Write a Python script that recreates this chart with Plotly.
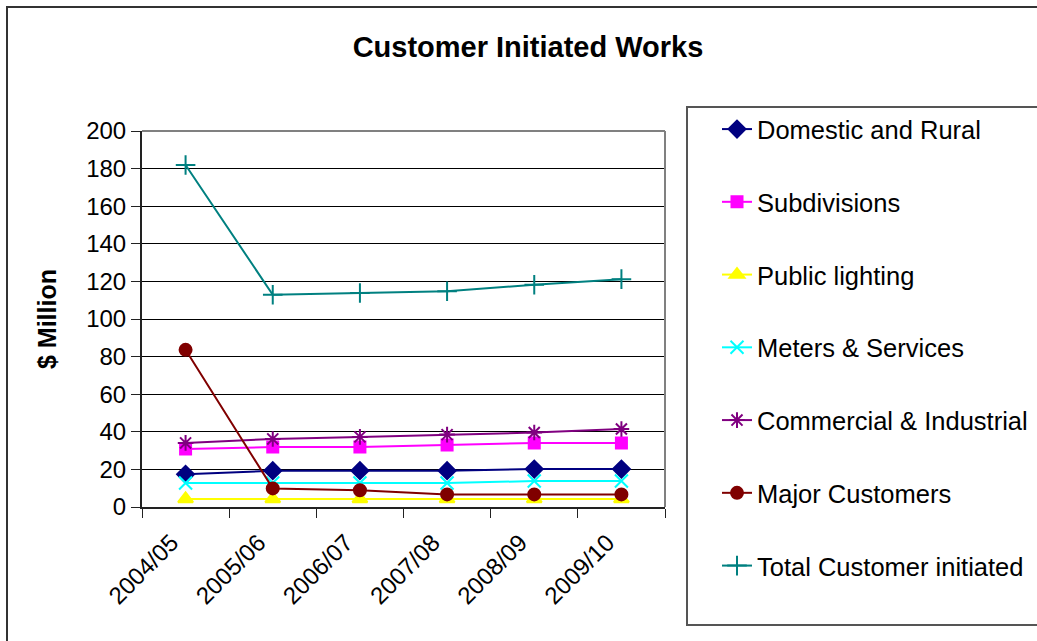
import plotly.graph_objects as go

# Financial years (categories on the x axis)
years = ["2004/05", "2005/06", "2006/07", "2007/08", "2008/09", "2009/10"]

# Expenditure by category, $ Million
domestic_rural = [17.4, 19.3, 19.3, 19.3, 20.2, 20.2]
subdivisions = [30.9, 31.9, 31.9, 33.0, 34.1, 34.1]
public_lighting = [4.3, 4.3, 4.3, 4.3, 4.3, 4.3]
meters_services = [12.8, 12.8, 12.8, 12.8, 13.8, 13.8]
commercial_industrial = [34.1, 36.2, 37.3, 38.5, 39.6, 41.5]
major_customers = [83.6, 9.9, 8.9, 6.7, 6.7, 6.7]
total_customer_initiated = [181.9, 112.9, 113.8, 114.8, 118.2, 121.2]

y_ticks = [0, 20, 40, 60, 80, 100, 120, 140, 160, 180, 200]

series = [
    ("Domestic and Rural", domestic_rural, "#000080", "diamond", 13),
    ("Subdivisions", subdivisions, "#FF00FF", "square", 11),
    ("Public lighting", public_lighting, "#FFFF00", "triangle-up", 13),
    ("Meters & Services", meters_services, "#00FFFF", "x-thin-open", 13),
    ("Commercial & Industrial", commercial_industrial, "#800080", "asterisk-open", 13),
    ("Major Customers", major_customers, "#800000", "circle", 12),
    ("Total Customer initiated", total_customer_initiated, "#008080", "cross-thin-open", 14),
]

W, H = 1037, 641
L, R, T, B = 142, 665, 131, 507  # plot area in pixels


def px_x(p):
    return (p - L) / (R - L)


def px_y(p):
    return (B - p) / (B - T)


fig = go.Figure()
for i, (name, vals, color, symbol, size) in enumerate(series):
    fig.add_trace(go.Scatter(
        x=years, y=vals, name=name, mode="lines+markers",
        legendgroup=f"g{i}",
        line=dict(color=color, width=2),
        marker=dict(symbol=symbol, size=size, color=color,
                    line=dict(color=color, width=2)),
    ))

font_family = "Liberation Sans, Arial, sans-serif"

fig.update_layout(
    width=W, height=H,
    margin=dict(l=L, r=W - R, t=T, b=H - B, autoexpand=False),
    paper_bgcolor="white", plot_bgcolor="white",
    font=dict(family=font_family, color="black", size=24),
    title=dict(text="<b>Customer Initiated Works</b>", x=528 / W, xanchor="center",
               y=1 - 47 / H, yanchor="middle",
               font=dict(size=29, family=font_family, color="black")),
    showlegend=True,
    legend=dict(
        x=px_x(717), y=px_y(106), xanchor="left", yanchor="top",
        font=dict(size=25.5, family=font_family, color="black"),
        bgcolor="rgba(0,0,0,0)", borderwidth=0,
        tracegroupgap=36.6, traceorder="grouped", maxheight=620,
    ),
    xaxis=dict(
        type="category", range=[-0.5, 5.5],
        showgrid=False, showline=True, linecolor="#222", linewidth=2,
        ticks="outside", tickson="boundaries", ticklen=9, tickcolor="#222", tickwidth=1,
        tickangle=-45, tickfont=dict(size=24),
        ticklabelstandoff=10, ticklabelshift=-14,
        mirror=False, zeroline=False,
    ),
    yaxis=dict(
        range=[0, 200], tickvals=y_ticks,
        showgrid=True, gridcolor="#000000", gridwidth=1,
        showline=True, linecolor="#222", linewidth=2,
        ticks="outside", ticklen=9, tickcolor="#222", tickwidth=1,
        tickfont=dict(size=24), zeroline=False,
        title=dict(text="<b>$ Million</b>", font=dict(size=25), standoff=22),
    ),
    shapes=[
        # plot area frame (top and right edges)
        dict(type="line", xref="paper", yref="paper", x0=0, x1=1, y0=1, y1=1,
             line=dict(color="#808080", width=2)),
        dict(type="line", xref="paper", yref="paper", x0=1, x1=1, y0=0, y1=1,
             line=dict(color="#808080", width=2)),
        # legend box
        dict(type="rect", xref="paper", yref="paper",
             x0=px_x(687), x1=px_x(1050), y0=px_y(625), y1=px_y(107),
             line=dict(color="#555555", width=2), layer="below"),
        # outer chart border
        dict(type="rect", xref="paper", yref="paper",
             x0=px_x(7), x1=px_x(1060), y0=px_y(660), y1=px_y(7),
             line=dict(color="#333333", width=2), layer="below"),
    ],
)

fig.write_html("out.html")
